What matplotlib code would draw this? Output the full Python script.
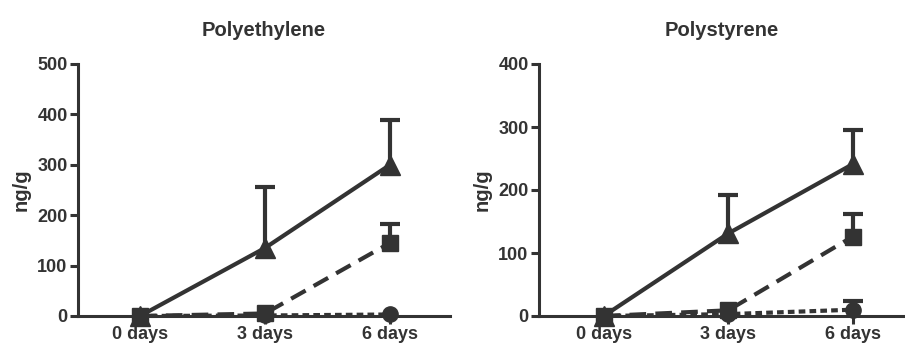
import matplotlib
matplotlib.use("Agg")
import matplotlib.pyplot as plt
import numpy as np

plt.rcParams['font.family'] = ['Liberation Sans', 'DejaVu Sans']
plt.rcParams['font.weight'] = 'bold'

INK = '#333333'

days = ['0 days', '3 days', '6 days']

# Polyethylene
pe_tri = [0, 135, 300]
pe_tri_err = [0, 121, 88]
pe_sq = [0, 5, 145]
pe_sq_err = [0, 0, 37]
pe_circ = [0, 1, 3]
pe_circ_err = [0, 0, 0]

# Polystyrene
ps_tri = [0, 131, 241]
ps_tri_err = [0, 61, 54]
ps_sq = [0, 9, 126]
ps_sq_err = [0, 0, 36]
ps_circ = [0, 3, 10]
ps_circ_err = [0, 0, 14]

fig = plt.figure(figsize=(9.05, 3.43), dpi=100)
ax1 = fig.add_axes([78/905, 1-316/343, (450-78)/905, (316-64)/343])
ax2 = fig.add_axes([539/905, 1-316/343, (905-539)/905, (316-64)/343])


def panel(ax, title, tri, tri_err, sq, sq_err, circ, circ_err, ymax, xlim):
    x = np.arange(len(days))
    series = [
        (tri, tri_err, '^', '-', 15),
        (circ, circ_err, 'o', (0, (1.6, 1.0)), 11),
        (sq, sq_err, 's', (0, (4.0, 2.2)), 12),
    ]
    for vals, err, mk, ls, ms in series:
        err = np.asarray(err, dtype=float)
        # upper-only error bars; skip points with no spread
        show = err > 0
        ax.plot(x, vals, color=INK, marker=mk, markersize=ms, linestyle=ls,
                linewidth=3, clip_on=False, zorder=3)
        if show.any():
            eb = ax.errorbar(x[show], np.asarray(vals)[show],
                             yerr=[np.zeros(show.sum()), err[show]],
                             color=INK, linestyle='none', elinewidth=3,
                             capsize=7, capthick=3, zorder=3)
            caps = eb.lines[1]
            if len(caps) == 2:
                caps[0].set_visible(False)
    ax.set_xlim(*xlim)
    ax.set_ylim(0, ymax)
    ax.set_xticks(x)
    ax.set_xticklabels(days)
    ax.set_yticks(np.arange(0, ymax + 1, 100))
    for s in ['top', 'right']:
        ax.spines[s].set_visible(False)
    for s in ['left', 'bottom']:
        ax.spines[s].set_linewidth(2.2)
        ax.spines[s].set_color(INK)
    ax.tick_params(axis='both', colors=INK, width=2.2, length=6,
                   labelsize=13, pad=1.5)
    ax.tick_params(axis='x', pad=1)
    for lab in ax.get_xticklabels() + ax.get_yticklabels():
        lab.set_fontweight('bold')
    ax.set_ylabel('ng/g', fontsize=14.5, fontweight='bold', color=INK,
                  labelpad=5)
    ax.set_title(title, fontsize=14.5, fontweight='bold', color=INK, pad=20)


panel(ax1, 'Polyethylene', pe_tri, pe_tri_err, pe_sq, pe_sq_err,
      pe_circ, pe_circ_err, 500, (-0.496, 2.48))
panel(ax2, 'Polystyrene', ps_tri, ps_tri_err, ps_sq, ps_sq_err,
      ps_circ, ps_circ_err, 400, (-0.52, 2.42))

fig.savefig('out.png', dpi=100)
